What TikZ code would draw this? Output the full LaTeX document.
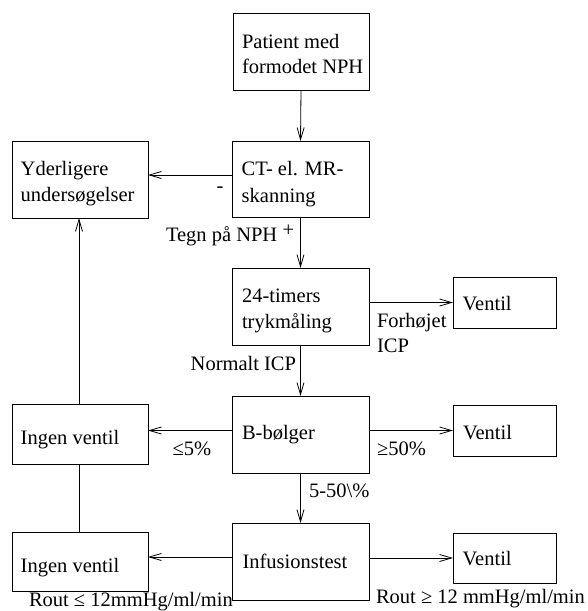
\documentclass[tikz,border=0pt]{standalone}
\usepackage{fontspec}
\setmainfont{Liberation Serif}
\usetikzlibrary{arrows.meta}

\begin{document}
\begin{tikzpicture}[x=1pt,y=-1pt,
  box/.style={draw,line width=0.8pt,rectangle,inner sep=0pt,outer sep=0pt},
  txt/.style={anchor=base west,inner sep=0pt,outer sep=0pt,font=\fontsize{20.5}{25}\selectfont},
  arr/.style={line width=0.8pt,-{Straight Barb[length=12pt,width=7pt,line width=0.8pt]}},
  con/.style={line width=0.8pt}]
\useasboundingbox (0,0) rectangle (588,611);

% centre column
\node[box,minimum width=136pt,minimum height=77pt] (pat) at (301,51.5) {};
\node[box,minimum width=137pt,minimum height=76pt] (ct)  at (300.5,179) {};
\node[box,minimum width=137pt,minimum height=77pt] (tim) at (300.5,306.5) {};
\node[box,minimum width=137pt,minimum height=77pt] (bb)  at (300.5,434.5) {};
\node[box,minimum width=137pt,minimum height=77pt] (inf) at (300.5,561.5) {};

% left column
\node[box,minimum width=136pt,minimum height=77pt] (yd)  at (80,179.5) {};
\node[box,minimum width=136pt,minimum height=60pt] (iv1) at (80,434) {};
\node[box,minimum width=136pt,minimum height=59pt] (iv2) at (80,561.5) {};

% right column
\node[box,minimum width=103pt,minimum height=51pt] (v1) at (504.5,302.5) {};
\node[box,minimum width=103pt,minimum height=51pt] (v2) at (504.5,430.5) {};
\node[box,minimum width=103pt,minimum height=50pt] (v3) at (504.5,558) {};

% box texts
\node[txt] (pat1) at (242,48) {Patient med};
\node[txt] (pat2) at (242,73) {formodet NPH};
\node[txt] (ct1) at (241.7,175) {CT- el. MR-};
\node[txt] (ct2) at (241.7,202.7) {skanning};
\node[txt] (tim1) at (242,302.7) {24-timers};
\node[txt] (tim2) at (242,328.3) {trykmåling};
\node[txt] (bbt) at (242,439) {B-bølger};
\node[txt] (inft) at (242.5,568) {Infusionstest};
\node[txt] (yd1) at (20.7,175.7) {Yderligere};
\node[txt] (yd2) at (20.7,201) {undersøgelser};
\node[txt] (iv1t) at (20.7,444) {Ingen ventil};
\node[txt] (iv2t) at (20.7,572) {Ingen ventil};
\node[txt] (v1t) at (462.7,310.7) {Ventil};
\node[txt] (v2t) at (463,439) {Ventil};
\node[txt] (v3t) at (462.7,565) {Ventil};

% connectors
\draw[arr] (pat.south) -- (ct.north);
\draw[arr] (ct.south) -- (tim.north);
\draw[arr] (tim.south) -- (bb.north);
\draw[arr] (bb.south) -- (inf.north);
\draw[arr] ([yshift=4pt]ct.west) -- ([yshift=4pt]ct.west -| yd.east);
\draw[arr] (tim.east |- v1.west) -- (v1.west);
\draw[arr] ([yshift=4pt]bb.west) -- ([yshift=4pt]bb.west -| iv1.east);
\draw[arr] (bb.east |- v2.west) -- (v2.west);
\draw[arr] ([yshift=4.5pt]inf.west) -- ([yshift=4.5pt]inf.west -| iv2.east);
\draw[arr] (inf.east |- v3.west) -- (v3.west);
\draw[arr] ([xshift=-1pt]iv1.north) -- ([xshift=-1pt]yd.south);
\draw[con] ([xshift=-1pt]iv2.north) -- ([xshift=-1pt]iv1.south);

% connector labels
\node[txt] (lminus) at (216.5,192) {-};
\node[txt] (ltegn) at (166,241.7) {Tegn på NPH};
\node[txt] (lplus) at (282.5,236.5) {+};
\node[txt] (lfor1) at (377,327) {Forhøjet};
\node[txt] (lfor2) at (377,352) {ICP};
\node[txt] (lnorm) at (190.7,370.7) {Normalt ICP};
\node[txt] (lle) at (172.7,455.7) {≤5\%};
\node[txt] (lge) at (377,455.7) {≥50\%};
\node[txt] (lmid) at (309,497.7) {5-50\textbackslash\%};
\node[txt] (rlo) at (29,606) {Rout ≤ 12mmHg/ml/min};
\node[txt] (rhi) at (376,603) {Rout ≥ 12 mmHg/ml/min};
\end{tikzpicture}
\end{document}
